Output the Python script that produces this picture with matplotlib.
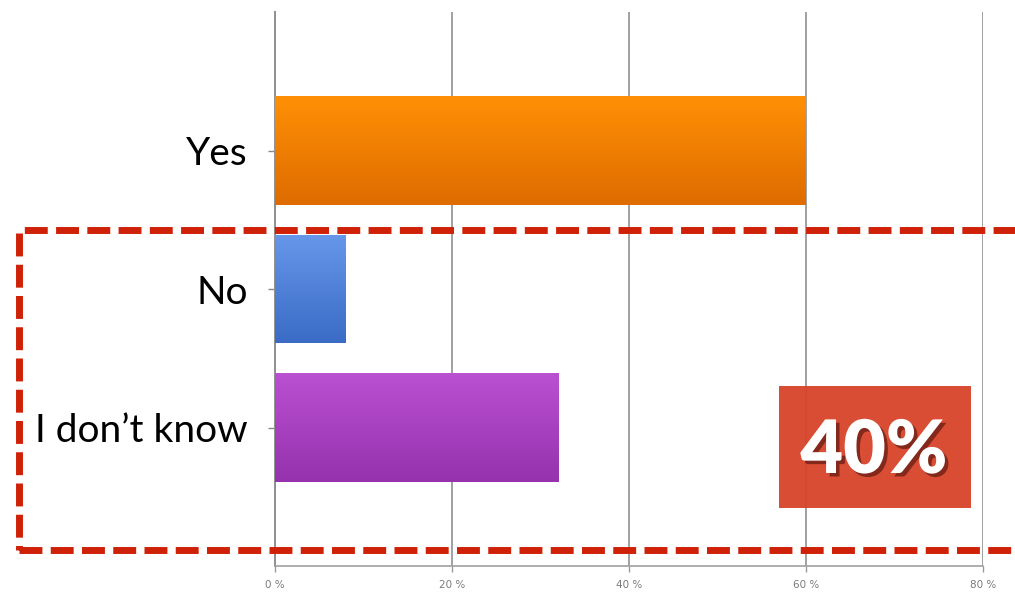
import matplotlib
matplotlib.use("Agg")
import matplotlib.pyplot as plt
import matplotlib.patheffects as pe
from matplotlib.patches import Rectangle
from matplotlib.colors import LinearSegmentedColormap
import numpy as np

# Survey answers (percent of respondents)
categories = ["Yes", "No", "I don\u2019t know"]
values = [60, 8, 32]
top_colors = ["#ff9005", "#6797ea", "#ba50d2"]
bottom_colors = ["#de6c00", "#3a6cc6", "#9632ad"]
x_ticks = [0, 20, 40, 60, 80]
x_tick_labels = [f"{t} %" for t in x_ticks]

W, H = 1015, 593
fig = plt.figure(figsize=(W / 100, H / 100), dpi=100)
fig.patch.set_facecolor("white")

ax = fig.add_axes([275 / W, 27 / H, 708 / W, 554 / H])
ax.set_xlim(0, 80)
ax.set_ylim(3, -1)

pos = np.arange(len(categories))
bars = ax.barh(pos, values, height=0.78, color=top_colors, zorder=3)

# vertical gradient fill on every bar
for bar, c_top, c_bot in zip(bars, top_colors, bottom_colors):
    x0, y0 = bar.get_x(), bar.get_y()
    w, h = bar.get_width(), bar.get_height()
    cmap = LinearSegmentedColormap.from_list("g", [c_top, c_bot])
    grad = np.linspace(0, 1, 128).reshape(-1, 1)
    im = ax.imshow(grad, cmap=cmap, aspect="auto", origin="upper",
                   extent=(x0, x0 + w, y0 + h, y0), zorder=3.5,
                   interpolation="bilinear")
    im.set_clip_path(bar)
ax.set_xlim(0, 80)
ax.set_ylim(3, -1)

ax.set_xticks(x_ticks)
ax.set_xticklabels(x_tick_labels, fontsize=7.5, color="#7a7a7a",
                   family="DejaVu Sans")
ax.set_yticks(pos)
ax.set_yticklabels(categories, fontsize=28, color="#000000", family="Lato")
ax.tick_params(axis="x", length=4, width=1, color="#999999", pad=6)
ax.tick_params(axis="y", length=5, width=1, color="#888888", pad=14.4)

ax.grid(axis="x", color="#a0a0a0", linewidth=1.4, zorder=1)
for s in ["top", "right"]:
    ax.spines[s].set_visible(False)
ax.spines["left"].set_color("#909090")
ax.spines["left"].set_linewidth(1.4)
ax.spines["bottom"].set_color("#a0a0a0")
ax.spines["bottom"].set_linewidth(1.2)

# dashed red frame around the "No" / "I don't know" rows
frame = Rectangle((19 / W, (H - 550) / H), (1040 - 19) / W, (550 - 230) / H,
                  transform=fig.transFigure, fill=False, edgecolor="#cf2108",
                  linewidth=5, linestyle=(0, (3.3, 1.2)), zorder=10,
                  clip_on=False)
fig.patches.append(frame)

# callout box with the combined share
combined = values[1] + values[2]
box = Rectangle((779 / W, (H - 508) / H), (971 - 779) / W, (508 - 386) / H,
                transform=fig.transFigure, facecolor="#d8432a", alpha=0.95,
                edgecolor="none", zorder=11)
fig.patches.append(box)
fig.text(874 / W, (H - 452) / H, f"{combined}%", ha="center", va="center",
         fontsize=53, fontweight="heavy", color="white", family="Lato",
         zorder=12,
         path_effects=[pe.withSimplePatchShadow(offset=(2.5, -2.5),
                                                shadow_rgbFace="#4a1008",
                                                alpha=0.6)])

fig.savefig("out.png", dpi=100, facecolor="white")
